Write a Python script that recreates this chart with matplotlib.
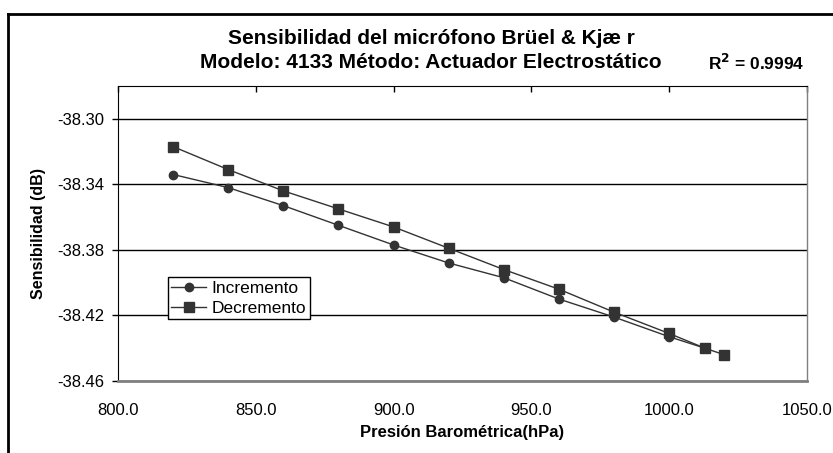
import matplotlib
matplotlib.use('Agg')
import matplotlib.pyplot as plt
from matplotlib.lines import Line2D

plt.rcParams['font.family'] = ['Liberation Sans', 'DejaVu Sans']

presion_inc = [820, 840, 860, 880, 900, 920, 940, 960, 980, 1000, 1013]
sens_inc = [-38.334, -38.342, -38.353, -38.365, -38.377, -38.388,
            -38.397, -38.410, -38.421, -38.433, -38.440]
presion_dec = [820, 840, 860, 880, 900, 920, 940, 960, 980, 1000, 1013, 1020]
sens_dec = [-38.317, -38.331, -38.344, -38.355, -38.366, -38.379,
            -38.392, -38.404, -38.418, -38.431, -38.440, -38.444]
xticks = [800, 850, 900, 950, 1000, 1050]
yticks = [-38.46, -38.42, -38.38, -38.34, -38.30]

W, H = 833, 453
fig = plt.figure(figsize=(W / 100, H / 100), dpi=100)
ax = fig.add_axes([118 / W, 1 - 381 / H, (807 - 118) / W, (381 - 86) / H])

c = '#333333'
ax.plot(presion_inc, sens_inc, color=c, lw=1, marker='o', ms=6, label='Incremento')
ax.plot(presion_dec, sens_dec, color=c, lw=1, marker='s', ms=7, label='Decremento')

ax.set_xlim(800, 1050)
ax.set_ylim(-38.46, -38.28)
ax.set_xticks(xticks)
ax.set_xticklabels(['%.1f' % t for t in xticks])
ax.set_yticks(yticks)
ax.set_yticklabels(['%.2f' % t for t in yticks])
ax.yaxis.grid(True, color='black', lw=1)
ax.set_axisbelow(True)

ax.tick_params(axis='x', bottom=False, top=True, labelbottom=True, direction='in',
               length=4, width=1, labelsize=12, pad=16)
ax.tick_params(axis='y', direction='out', length=4, width=1, labelsize=12, pad=6)
ax.spines['left'].set_color('black')
ax.spines['top'].set_color('black')
ax.spines['bottom'].set_color('#808080')
ax.spines['right'].set_color('#808080')
ax.spines['bottom'].set_linewidth(2)
ax.spines['right'].set_linewidth(1)

ax.set_xlabel('Presión Barométrica(hPa)', fontsize=12, fontweight='bold', labelpad=5)
ax.set_ylabel('Sensibilidad (dB)', fontsize=11.5, fontweight='bold', labelpad=8)

fig.text(431 / W, 1 - 39 / H, 'Sensibilidad del micrófono Brüel & Kjæ r',
         ha='center', va='center', fontsize=15, fontweight='bold')
fig.text(431 / W, 1 - 62 / H, 'Modelo: 4133 Método: Actuador Electrostático',
         ha='center', va='center', fontsize=15, fontweight='bold')
fig.text(756 / W, 1 - 63 / H, r'R$^\mathbf{2}$ = 0.9994',
         ha='center', va='center', fontsize=12.5, fontweight='bold')

leg = ax.legend(loc='upper left', bbox_to_anchor=(168 / W, 1 - 277 / H),
                bbox_transform=fig.transFigure, borderaxespad=0, fontsize=12.5,
                frameon=True, fancybox=False, edgecolor='black', framealpha=1,
                handlelength=2, handletextpad=0.3, borderpad=0.2, labelspacing=0.3)
leg.get_frame().set_linewidth(1)

# marco exterior del grafico
fig.add_artist(Line2D([8 / W, 8 / W], [0, 1 - 14 / H], color='black', lw=2,
                      transform=fig.transFigure))
fig.add_artist(Line2D([8 / W, 1], [1 - 14 / H, 1 - 14 / H], color='black', lw=2,
                      transform=fig.transFigure))

fig.savefig('out.png', dpi=100)
